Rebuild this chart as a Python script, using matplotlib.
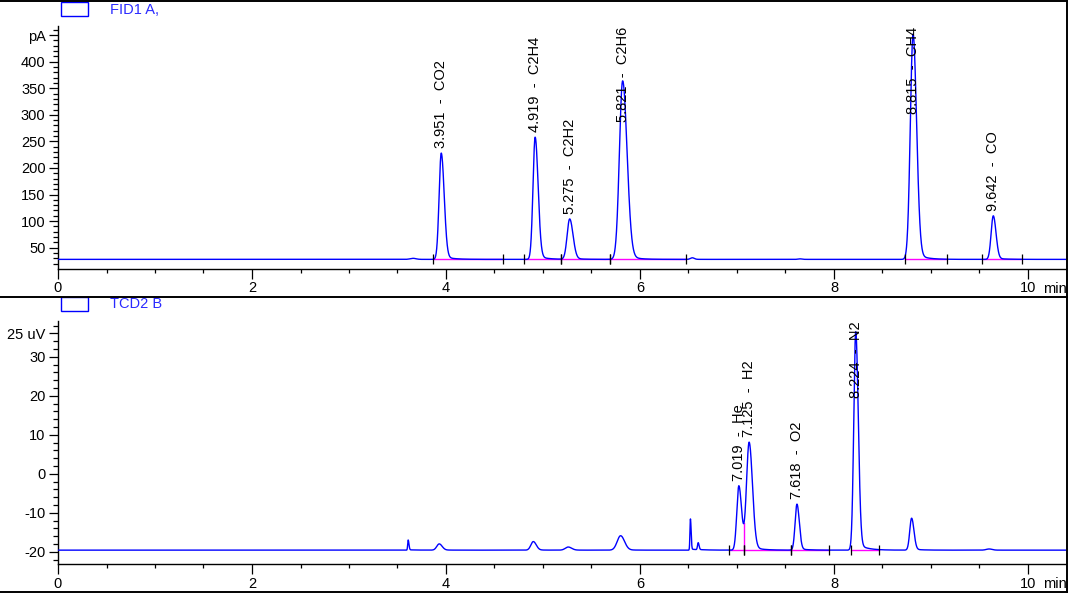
import numpy as np
import matplotlib
matplotlib.use("Agg")
import matplotlib.pyplot as plt
from matplotlib.lines import Line2D
from matplotlib.patches import Rectangle
import matplotlib.transforms as mtransforms

plt.rcParams['font.family'] = ['Liberation Sans', 'DejaVu Sans']

# ---------------- data ----------------
# FID1 A (pA)
fid_baseline = 28.0
fid_rt     = [3.66, 3.951, 4.919, 5.275, 5.821, 6.54, 7.65, 8.815, 9.642]
fid_height = [2.0, 200.0, 230.0, 76.0, 336.0, 3.0, 1.0, 424.0, 82.0]
fid_sig_l  = [0.03, 0.022, 0.022, 0.026, 0.033, 0.02, 0.02, 0.028, 0.022]
fid_sig_r  = [0.03, 0.030, 0.030, 0.034, 0.045, 0.02, 0.02, 0.036, 0.028]
fid_labels = {3.951: "3.951  -  CO2", 4.919: "4.919  -  C2H4", 5.275: "5.275  -  C2H2",
              5.821: "5.821  -  C2H6", 8.815: "8.815  -  CH4", 9.642: "9.642  -  CO"}
fid_events = [(3.87, 4.59), (4.80, 5.19), (5.19, 5.69), (5.69, 6.47), (8.73, 9.17), (9.53, 9.94)]

# TCD2 B (uV)
tcd_baseline = -19.6
tcd_rt     = [3.61, 3.93, 4.90, 5.26, 5.80, 6.52, 6.60, 7.019, 7.125, 7.618, 8.224, 8.80, 9.60]
tcd_height = [2.6, 1.6, 2.2, 0.8, 3.7, 8.0, 1.8, 16.5, 27.5, 11.8, 56.0, 8.2, 0.3]
tcd_sig_l  = [0.005, 0.025, 0.025, 0.03, 0.035, 0.005, 0.007, 0.021, 0.027, 0.019, 0.020, 0.019, 0.03]
tcd_sig_r  = [0.008, 0.03, 0.03, 0.035, 0.04, 0.007, 0.009, 0.028, 0.034, 0.024, 0.026, 0.024, 0.03]
tcd_labels = {7.019: "7.019  -  He", 7.125: "7.125  -  H2", 7.618: "7.618  -  O2", 8.224: "8.224  -  N2"}
tcd_events = [(6.92, 7.07), (7.07, 7.56), (7.56, 7.95), (8.18, 8.46)]
tcd_drop = 7.07

x_major = [0, 2, 4, 6, 8, 10]
x_labels = ["0", "2", "4", "6", "8", "10"]
fid_yticks = [50, 100, 150, 200, 250, 300, 350, 400, 450]
fid_ylabels = ["50", "100", "150", "200", "250", "300", "350", "400", "pA"]
tcd_yticks = [-20, -10, 0, 10, 20, 30, 36]
tcd_ylabels = ["-20", "-10", "0", "10", "20", "30", "25 uV"]

# ---------------- helpers ----------------
def peak(t, rt, h, sl, sr, tail=0.035, tau=0.09):
    g = np.where(t < rt, np.exp(-0.5 * ((t - rt) / sl) ** 2), np.exp(-0.5 * ((t - rt) / sr) ** 2))
    tl = np.where(t > rt, np.exp(-(t - rt) / tau) * (1 - np.exp(-0.5 * ((t - rt) / sr) ** 2)), 0.0)
    return h * (g + tail * tl)

t = np.linspace(0, 10.5, 8000)
fid = np.full_like(t, fid_baseline)
for rt, h, sl, sr in zip(fid_rt, fid_height, fid_sig_l, fid_sig_r):
    fid += peak(t, rt, h, sl, sr)
tcd = np.full_like(t, tcd_baseline)
for rt, h, sl, sr in zip(tcd_rt, tcd_height, tcd_sig_l, tcd_sig_r):
    tcd += peak(t, rt, h, sl, sr)

W, H = 1068, 593
fig = plt.figure(figsize=(W / 100, H / 100), dpi=100)

def rect(x0, y0, x1, y1):
    return [x0 / W, 1 - y1 / H, (x1 - x0) / W, (y1 - y0) / H]

X0, X1 = 58, 1066
PXPERMIN = 97.0
xmax = (X1 - X0) / PXPERMIN

# pixel -> value maps
def fid_v(y): return 400 - (y - 61.7) / 0.5314
def tcd_v(y): return 30 - (y - 356.7) / 3.9

ax1 = fig.add_axes(rect(X0, 26, X1, 269))
ax2 = fig.add_axes(rect(X0, 321, X1, 564))
ax1.set_ylim(fid_v(269), fid_v(26))
ax2.set_ylim(tcd_v(564), tcd_v(321))

XMAJ_LEN, XPAD = 7.5, 1.5
for ax in (ax1, ax2):
    ax.set_xlim(0, xmax)
    for s in ("top", "right"):
        ax.spines[s].set_visible(False)
    for s in ("left", "bottom"):
        ax.spines[s].set_linewidth(1.0)
        ax.spines[s].set_color("black")
    ax.set_xticks(x_major)
    ax.set_xticklabels(x_labels)
    ax.set_xticks(np.arange(0, 10.4, 0.5), minor=True)
    ax.tick_params(axis="x", which="major", length=XMAJ_LEN, width=0.9, pad=XPAD, labelsize=10.5, colors="black")
    ax.tick_params(axis="x", which="minor", length=3, width=0.9)
    ax.tick_params(axis="y", which="major", length=6.5, width=0.9, pad=2.5, labelsize=10.5, colors="black")
    ax.tick_params(axis="y", which="minor", length=3.5, width=0.9)
    base_tr = mtransforms.blended_transform_factory(ax.transData, ax.transAxes)
    min_tr = mtransforms.offset_copy(base_tr, fig=fig, x=0, y=-(XMAJ_LEN + XPAD + 0.3), units="points")
    ax.text(10.155, 0, "min", transform=min_tr, ha="left", va="top", fontsize=10.5, color="black")

ax1.set_yticks(fid_yticks)
ax1.set_yticklabels(fid_ylabels)
ax1.set_yticks(np.arange(20, 461, 10), minor=True)
ax2.set_yticks(tcd_yticks)
ax2.set_yticklabels(tcd_ylabels)
ax2.set_yticks(np.arange(-22, 39, 2), minor=True)

# integration baselines & markers
for ax, events, base in ((ax1, fid_events, fid_baseline), (ax2, tcd_events, tcd_baseline)):
    for s, e in events:
        ax.plot([s, e], [base, base], color="#ff00ff", lw=1.0, zorder=2)
        ax.plot([s, e], [base, base], ls="none", marker="|", ms=7, mew=0.9, color="black", zorder=4)

dv = np.interp(tcd_drop, t, tcd)
ax2.plot([tcd_drop, tcd_drop], [tcd_baseline, dv], color="#ff00ff", lw=1.0, zorder=2)

ax1.plot(t, fid, color="#0000ff", lw=1.0, zorder=3)
ax2.plot(t, tcd, color="#0000ff", lw=1.0, zorder=3)

# peak labels
fig.canvas.draw()
renderer = fig.canvas.get_renderer()
for ax, labels, sig in ((ax1, fid_labels, fid), (ax2, tcd_labels, tcd)):
    for rt, lab in labels.items():
        top = np.interp(rt, t, sig)
        off = mtransforms.offset_copy(ax.transData, fig=fig, x=0, y=3.5, units="points")
        txt = ax.text(rt, top, lab, rotation=90, ha="center", va="bottom", fontsize=10.5,
                      color="black", transform=off, zorder=5)
        bb = txt.get_window_extent(renderer)
        axtop = ax.get_window_extent(renderer).y1
        if bb.y1 > axtop:
            txt.set_transform(mtransforms.blended_transform_factory(ax.transData, ax.transAxes))
            txt.set_position((rt, 0.997))
            txt.set_va("top")

# frame lines
def hline(y, x0=0, x1=W):
    fig.add_artist(Line2D([x0 / W, x1 / W], [1 - y / H, 1 - y / H], color="black", lw=1.4))
def vline(x, y0, y1):
    fig.add_artist(Line2D([x / W, x / W], [1 - y0 / H, 1 - y1 / H], color="black", lw=1.4))
hline(0.7)
hline(296.5)
hline(591.5)
vline(1066.8, 0, 592)

# headers
for y0, name in ((2, "FID1 A,"), (297, "TCD2 B")):
    fig.add_artist(Rectangle((61 / W, 1 - (y0 + 14) / H), 27 / W, 14 / H, transform=fig.transFigure,
                             fill=False, edgecolor="#0000ff", lw=1.0))
    fig.text(110 / W, 1 - (y0 + 7.5) / H, name, ha="left", va="center", fontsize=10.5, color="#2a2aff")

fig.savefig("out.png", dpi=100)
